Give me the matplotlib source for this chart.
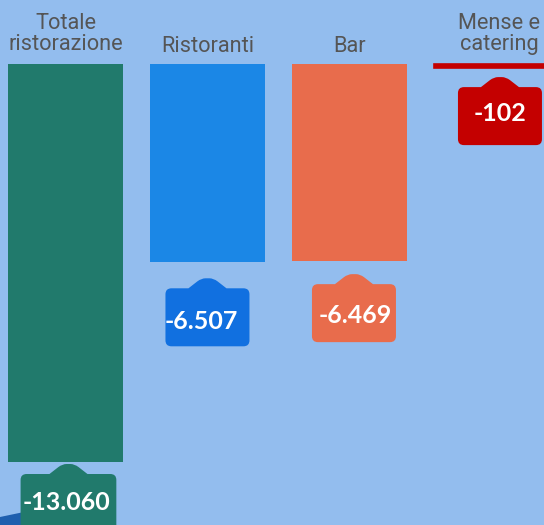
import matplotlib
matplotlib.use('Agg')
import matplotlib.pyplot as plt
import matplotlib.transforms as mtransforms
from matplotlib.path import Path
from matplotlib.patches import PathPatch, Polygon

# Dati
categories = ['Totale\nristorazione', 'Ristoranti', 'Bar', 'Mense e\ncatering']
values = [-13060, -6507, -6469, -102]
bar_colors = ['#217a6c', '#1b87e6', '#e86c4c', '#c40000']
label_colors = ['#217a6c', '#1170e0', '#e86c4c', '#c40000']

# piccoli aggiustamenti delle etichette (pixel)
label_gap = [2, 16, 13, 10]      # distanza punta / fine barra
box_dx = [3, 0, 4.5, 8.5]        # spostamento del box
text_dx = [-2, -6.5, 1, 0]       # spostamento del testo nel box
text_dy = [28, 33.5, 31, 26]     # centro testo sotto il bordo superiore
cat_dx = [0, 0, 0, 8]
cat_dy = [2, 0, 0, 2]

BG = '#93bdee'

fig = plt.figure(figsize=(5.44, 5.25), dpi=100, facecolor=BG)
ax = fig.add_axes([0, 0, 1, 1])
ax.set_facecolor(BG)
ax.set_xlim(-0.461, 3.370)
ax.set_ylim(-15127, 2100)
ax.axis('off')

x = list(range(len(categories)))
bars = ax.bar(x, values, width=0.81, color=bar_colors, zorder=2)
# la barra piccola ha un bordo per restare visibile
bars[3].set_edgecolor(bar_colors[3])
bars[3].set_linewidth(1.9)

# Etichette categorie
for i, cat in enumerate(categories):
    ax.annotate(cat, xy=(i, 0),
                xytext=(cat_dx[i] * 0.72, (12 + cat_dy[i]) * 0.72),
                textcoords='offset points', ha='center', va='baseline',
                fontsize=15.7, family='Roboto', color='#555555',
                linespacing=0.98)


def fmt(v):
    return f'{v:,}'.replace(',', '.')


renderer = fig.canvas.get_renderer()


def callout(i, xi, yi, text, color):
    anchor = mtransforms.ScaledTranslation(xi, yi, ax.transData)
    base = mtransforms.Affine2D().translate(box_dx[i], 0) + anchor
    ph = 10
    top = -(label_gap[i] + ph)
    bottom = top - 58
    t = ax.text(text_dx[i], top - text_dy[i], text, transform=base,
                ha='center', va='center', fontsize=18, family='Lato',
                fontweight='bold', color='white', zorder=5)
    w = max(t.get_window_extent(renderer).width + 8, 84) / 2
    r = 6
    L, R, T, B = -w, w, top, bottom
    verts = [(L + r, T), (-19, T), (-10, T + ph - 3), (-6, T + ph),
             (-2, T + ph), (2, T + ph), (6, T + ph), (10, T + ph - 3),
             (19, T), (R - r, T), (R, T), (R, T - r),
             (R, B + r), (R, B), (R - r, B), (L + r, B), (L, B), (L, B + r),
             (L, T - r), (L, T), (L + r, T), (L + r, T)]
    codes = [Path.MOVETO, Path.LINETO, Path.LINETO, Path.CURVE3, Path.CURVE3,
             Path.LINETO, Path.CURVE3, Path.CURVE3,
             Path.LINETO, Path.LINETO, Path.CURVE3, Path.CURVE3,
             Path.LINETO, Path.CURVE3, Path.CURVE3, Path.LINETO,
             Path.CURVE3, Path.CURVE3, Path.LINETO, Path.CURVE3, Path.CURVE3,
             Path.CLOSEPOLY]
    ax.add_patch(PathPatch(Path(verts, codes), facecolor=color,
                           edgecolor='none', transform=base, zorder=4))


for i, v in enumerate(values):
    callout(i, i, v, fmt(v), label_colors[i])

# frammento scuro in basso a sinistra
ax.add_patch(Polygon([(0, 1 - 517 / 525), (24 / 544, 1 - 512 / 525),
                      (24 / 544, 0), (0, 0)], closed=True,
                     facecolor='#1f5fae', edgecolor='none',
                     transform=ax.transAxes, zorder=1))

plt.savefig('out.png', dpi=100, facecolor=BG)
